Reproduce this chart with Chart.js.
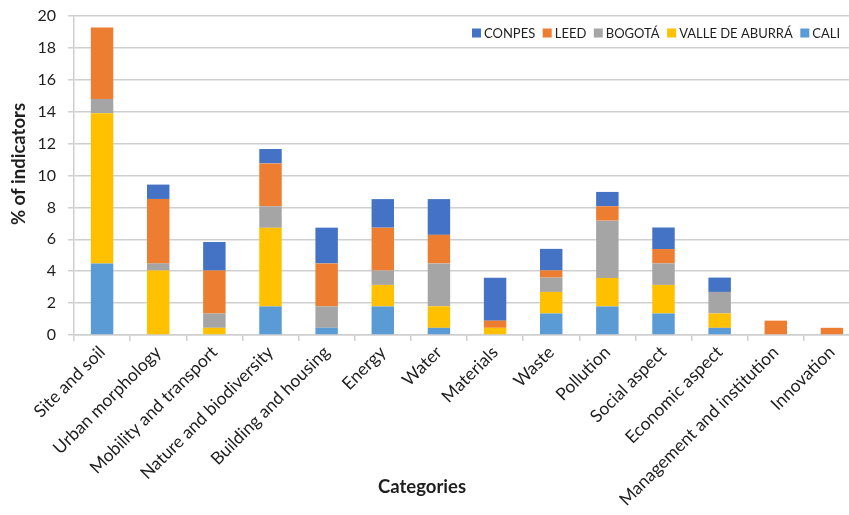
<!DOCTYPE html>
<html>
<head>
<meta charset="utf-8">
<script src="https://cdn.jsdelivr.net/npm/chart.js@4.4.0/dist/chart.umd.min.js"></script>
<style>
  html, body { margin: 0; padding: 0; overflow: hidden; background: #fff; }
  #wrap { width: 866px; height: 515px; }
</style>
</head>
<body>
<div id="wrap"><canvas id="chart" width="866" height="515"></canvas></div>
<script>
// data (% of indicators)
const categories = ['Site and soil', 'Urban morphology', 'Mobility and transport', 'Nature and biodiversity',
  'Building and housing', 'Energy', 'Water', 'Materials', 'Waste', 'Pollution', 'Social aspect',
  'Economic aspect', 'Management and institution', 'Innovation'];

const cali   = [4.48, 0, 0, 1.79, 0.45, 1.79, 0.45, 0, 1.35, 1.79, 1.35, 0.45, 0, 0];
const valle  = [9.42, 4.04, 0.45, 4.93, 0, 1.35, 1.35, 0.45, 1.35, 1.79, 1.79, 0.90, 0, 0];
const bogota = [0.90, 0.45, 0.90, 1.35, 1.35, 0.90, 2.69, 0, 0.90, 3.59, 1.35, 1.35, 0, 0];
const leed   = [4.48, 4.04, 2.69, 2.69, 2.69, 2.69, 1.79, 0.45, 0.45, 0.90, 0.90, 0, 0.90, 0.45];
const conpes = [0, 0.90, 1.79, 0.90, 2.24, 1.79, 2.24, 2.69, 1.35, 0.90, 1.35, 0.90, 0, 0];

const yTicks = [0, 2, 4, 6, 8, 10, 12, 14, 16, 18, 20];

const textColor = '#1e1e1e';
const gridColor = '#CFCFCF';
Chart.defaults.font.family = 'Lato';
Chart.defaults.color = textColor;

// legend sits inside the plot, top right, and axis titles are placed by hand
const overlay = {
  id: 'overlay',
  afterDraw(chart) {
    const ctx = chart.ctx;
    ctx.save();
    ctx.font = '13px Lato';
    ctx.textBaseline = 'middle';
    let x = 472;
    const y = 33;
    chart.data.datasets.slice().reverse().forEach(ds => {
      ctx.fillStyle = ds.backgroundColor;
      ctx.fillRect(x, y - 4.5, 9, 9);
      ctx.fillStyle = textColor;
      ctx.fillText(ds.label, x + 12, y + 0.5);
      x += 12 + ctx.measureText(ds.label).width + 7.5;
    });

    ctx.font = 'bold 18.5px Lato';
    ctx.textAlign = 'center';
    ctx.fillText('Categories', 422, 487);
    ctx.translate(19, 164);
    ctx.rotate(-Math.PI / 2);
    ctx.fillText('% of indicators', 0, 0);
    ctx.restore();
  }
};

const ctx = document.getElementById('chart').getContext('2d');
new Chart(ctx, {
  type: 'bar',
  data: {
    labels: categories,
    datasets: [
      { label: 'CALI', data: cali, backgroundColor: '#5B9BD5' },
      { label: 'VALLE DE ABURRÁ', data: valle, backgroundColor: '#FFC000' },
      { label: 'BOGOTÁ', data: bogota, backgroundColor: '#A5A5A5' },
      { label: 'LEED', data: leed, backgroundColor: '#ED7D31' },
      { label: 'CONPES', data: conpes, backgroundColor: '#4472C4' }
    ]
  },
  options: {
    responsive: false,
    animation: false,
    devicePixelRatio: 1,
    categoryPercentage: 1,
    barPercentage: 0.4,
    layout: { padding: { top: 16, right: 6, left: 0, bottom: 0 } },
    plugins: {
      legend: { display: false },
      tooltip: { enabled: false }
    },
    scales: {
      x: {
        stacked: true,
        grid: { drawOnChartArea: false, drawTicks: true, tickLength: 6, color: gridColor, lineWidth: 1.5 },
        border: { color: gridColor, width: 1.5 },
        ticks: { minRotation: 45, maxRotation: 45, autoSkip: false, padding: 1, font: { size: 17.5 } },
        afterFit: s => { s.height = 180; }
      },
      y: {
        stacked: true,
        min: 0,
        max: 20,
        afterBuildTicks: s => { s.ticks = yTicks.map(v => ({ value: v })); },
        grid: { color: gridColor, lineWidth: 1.5, tickLength: 6 },
        border: { display: true, color: gridColor, width: 1.5 },
        ticks: { padding: 12, font: { size: 16 } },
        afterFit: s => { s.width = 74; s.paddingTop = 8; s.paddingBottom = 8; }
      }
    }
  },
  plugins: [overlay]
});
</script>
</body>
</html>
